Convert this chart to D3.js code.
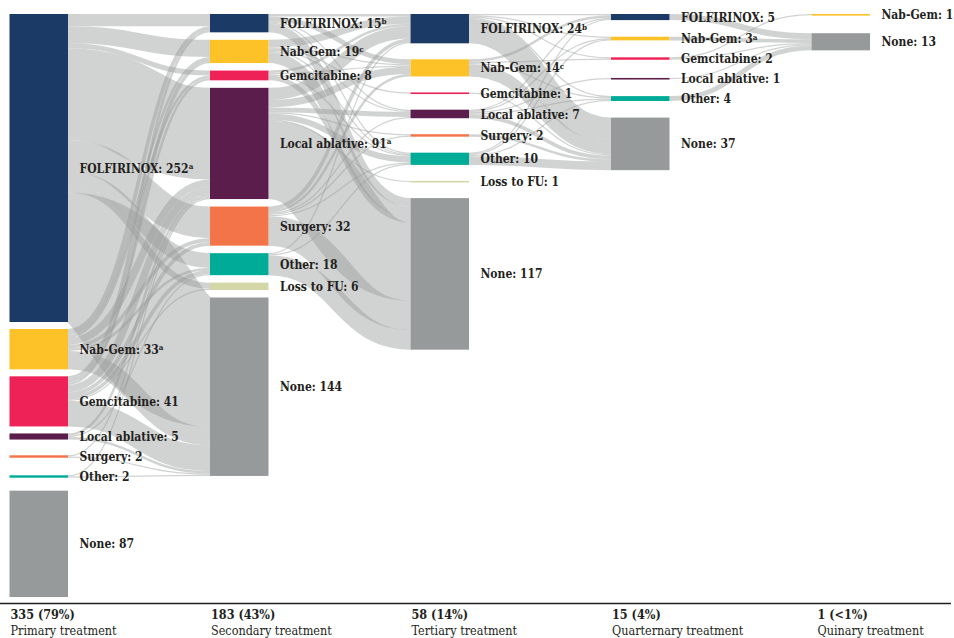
<!DOCTYPE html>
<html>
<head>
<meta charset="utf-8">
<script src="https://cdn.jsdelivr.net/npm/d3@7"></script>
<style>
  html, body { margin: 0; padding: 0; background: #fff; }
  svg { display: block; }
  text { font-family: "DejaVu Serif Condensed", "DejaVu Serif", serif; font-stretch: condensed; fill: #231f20; }
</style>
</head>
<body>
<svg id="chart" width="954" height="638"></svg>
<script>
// ---------------- DATA ----------------
const stageNames  = ["Primary treatment", "Secondary treatment", "Tertiary treatment", "Quarternary treatment", "Quinary treatment"];
const stageTotals = ["335 (79%)", "183 (43%)", "58 (14%)", "15 (4%)", "1 (<1%)"];

const primaryNodes    = ["FOLFIRINOX", "Nab-Gem", "Gemcitabine", "Local ablative", "Surgery", "Other", "None"];
const primaryValues   = [252, 33, 41, 5, 2, 2, 87];
const primaryNotes    = ["a", "a", "", "", "", "", ""];

const secondaryNodes  = ["FOLFIRINOX", "Nab-Gem", "Gemcitabine", "Local ablative", "Surgery", "Other", "Loss to FU", "None"];
const secondaryValues = [15, 19, 8, 91, 32, 18, 6, 144];
const secondaryNotes  = ["b", "c", "", "a", "", "", "", ""];

const tertiaryNodes   = ["FOLFIRINOX", "Nab-Gem", "Gemcitabine", "Local ablative", "Surgery", "Other", "Loss to FU", "None"];
const tertiaryValues  = [24, 14, 1, 7, 2, 10, 1, 117];
const tertiaryNotes   = ["b", "c", "", "", "", "", "", ""];

const quaternaryNodes  = ["FOLFIRINOX", "Nab-Gem", "Gemcitabine", "Local ablative", "Other", "None"];
const quaternaryValues = [5, 3, 2, 1, 4, 37];
const quaternaryNotes  = ["", "a", "", "", "", ""];

const quinaryNodes  = ["Nab-Gem", "None"];
const quinaryValues = [1, 13];
const quinaryNotes  = ["", ""];

// flows [source, target, patients] between consecutive stages (estimated from band widths)
const flows1to2 = [
  ["FOLFIRINOX", "FOLFIRINOX", 10], ["FOLFIRINOX", "Nab-Gem", 14], ["FOLFIRINOX", "Gemcitabine", 4],
  ["FOLFIRINOX", "Local ablative", 75], ["FOLFIRINOX", "Surgery", 26], ["FOLFIRINOX", "Other", 12],
  ["FOLFIRINOX", "Loss to FU", 5], ["FOLFIRINOX", "None", 106],
  ["Nab-Gem", "FOLFIRINOX", 3], ["Nab-Gem", "Nab-Gem", 2], ["Nab-Gem", "Gemcitabine", 2],
  ["Nab-Gem", "Local ablative", 6], ["Nab-Gem", "Surgery", 3], ["Nab-Gem", "Other", 2], ["Nab-Gem", "None", 15],
  ["Gemcitabine", "FOLFIRINOX", 2], ["Gemcitabine", "Nab-Gem", 3], ["Gemcitabine", "Gemcitabine", 2],
  ["Gemcitabine", "Local ablative", 6], ["Gemcitabine", "Surgery", 3], ["Gemcitabine", "Other", 3],
  ["Gemcitabine", "Loss to FU", 1], ["Gemcitabine", "None", 21],
  ["Local ablative", "Local ablative", 2], ["Local ablative", "Other", 1], ["Local ablative", "None", 2],
  ["Surgery", "Local ablative", 1], ["Surgery", "None", 1],
  ["Other", "Local ablative", 1], ["Other", "None", 1]
];
const flows2to3 = [
  ["FOLFIRINOX", "FOLFIRINOX", 2], ["FOLFIRINOX", "Nab-Gem", 4], ["FOLFIRINOX", "Local ablative", 1],
  ["FOLFIRINOX", "Other", 1], ["FOLFIRINOX", "None", 7],
  ["Nab-Gem", "FOLFIRINOX", 6], ["Nab-Gem", "Nab-Gem", 1], ["Nab-Gem", "Gemcitabine", 1],
  ["Nab-Gem", "Local ablative", 1], ["Nab-Gem", "Other", 1], ["Nab-Gem", "None", 9],
  ["Gemcitabine", "FOLFIRINOX", 2], ["Gemcitabine", "Nab-Gem", 1], ["Gemcitabine", "Other", 1], ["Gemcitabine", "None", 4],
  ["Local ablative", "FOLFIRINOX", 10], ["Local ablative", "Nab-Gem", 6], ["Local ablative", "Local ablative", 4],
  ["Local ablative", "Surgery", 1], ["Local ablative", "Other", 5], ["Local ablative", "Loss to FU", 1],
  ["Local ablative", "None", 64],
  ["Surgery", "FOLFIRINOX", 3], ["Surgery", "Nab-Gem", 2], ["Surgery", "Local ablative", 1],
  ["Surgery", "Surgery", 1], ["Surgery", "Other", 1], ["Surgery", "None", 24],
  ["Other", "FOLFIRINOX", 1], ["Other", "Other", 1], ["Other", "None", 16]
];
const flows3to4 = [
  ["FOLFIRINOX", "FOLFIRINOX", 1], ["FOLFIRINOX", "Nab-Gem", 1], ["FOLFIRINOX", "Gemcitabine", 1],
  ["FOLFIRINOX", "Other", 1], ["FOLFIRINOX", "None", 20],
  ["Nab-Gem", "FOLFIRINOX", 2], ["Nab-Gem", "Gemcitabine", 1], ["Nab-Gem", "Other", 1], ["Nab-Gem", "None", 10],
  ["Gemcitabine", "None", 1],
  ["Local ablative", "FOLFIRINOX", 1], ["Local ablative", "Nab-Gem", 1], ["Local ablative", "Local ablative", 1],
  ["Local ablative", "Other", 1], ["Local ablative", "None", 3],
  ["Surgery", "None", 2],
  ["Other", "FOLFIRINOX", 1], ["Other", "Nab-Gem", 1], ["Other", "Other", 1], ["Other", "None", 7]
];
const flows4to5 = [
  ["FOLFIRINOX", "None", 5], ["Nab-Gem", "None", 3], ["Gemcitabine", "Nab-Gem", 1],
  ["Gemcitabine", "None", 1], ["Local ablative", "None", 1], ["Other", "None", 4]
];

const categoryColors = {
  "FOLFIRINOX": "#1b3a65", "Nab-Gem": "#fdc228", "Gemcitabine": "#ee2257",
  "Local ablative": "#5b1e4c", "Surgery": "#f37449", "Other": "#00ac98",
  "Loss to FU": "#d3d6a6", "None": "#979a9a"
};

// ---------------- LAYOUT ----------------
const stages = [
  [primaryNodes, primaryValues, primaryNotes],
  [secondaryNodes, secondaryValues, secondaryNotes],
  [tertiaryNodes, tertiaryValues, tertiaryNotes],
  [quaternaryNodes, quaternaryValues, quaternaryNotes],
  [quinaryNodes, quinaryValues, quinaryNotes]
];
const flowSets = [flows1to2, flows2to3, flows3to4, flows4to5];

const topY = 14, bottomY = 597, nodeWidth = 58.5, minLabelStep = 20;
const columnGaps = [7, 7.5, 16, 16.6, 18];
const lastAtBottom = [true, false, false, false, false];
const x = d3.scaleLinear().domain([0, 4]).range([9.5, 811.5]);
const k = d3.scaleLinear().domain([0, 252]).range([0, 308]);

const nodes = stages.map((st, s) => st[0].map((name, i) => ({
  stage: s, name, label: st[1][i], note: st[2][i], index: i, inV: 0, outV: 0, outLinks: [], inLinks: []
})));
const links = [];
flowSets.forEach((fs, s) => fs.forEach(([a, b, v]) => {
  const src = nodes[s].find(n => n.name === a);
  const tgt = nodes[s + 1].find(n => n.name === b);
  const l = { source: src, target: tgt, value: v };
  src.outV += v; tgt.inV += v;
  src.outLinks.push(l); tgt.inLinks.push(l);
  links.push(l);
}));

nodes.forEach((col, s) => {
  col.forEach(n => { n.value = Math.max(n.label, n.inV, n.outV); n.h = k(n.value); });
  const gap = columnGaps[s];
  let y = topY, prevC = -Infinity;
  col.forEach(n => {
    n.x0 = x(s); n.x1 = x(s) + nodeWidth;
    let y0 = y;
    if (y0 + n.h / 2 < prevC + minLabelStep) y0 = prevC + minLabelStep - n.h / 2;
    n.y0 = y0; n.y1 = y0 + n.h;
    prevC = (n.y0 + n.y1) / 2;
    y = n.y1 + gap;
  });
  if (lastAtBottom[s]) {
    const last = col[col.length - 1];
    last.y0 = bottomY - last.h; last.y1 = bottomY;
  }
});

// link attachment positions
nodes.flat().forEach(n => {
  let sy = n.y0;
  n.outLinks.sort((a, b) => a.target.index - b.target.index).forEach(l => {
    l.w = k(l.value); l.y0 = sy + l.w / 2; sy += l.w;
  });
  let ty = n.y0;
  n.inLinks.sort((a, b) => a.source.index - b.source.index).forEach(l => {
    l.w = k(l.value); l.y1 = ty + l.w / 2; ty += l.w;
  });
});

// ---------------- DRAW ----------------
const svg = d3.select("#chart");
const linkGen = d3.linkHorizontal();

svg.append("g")
  .attr("fill", "none")
  .selectAll("path")
  .data(links)
  .join("path")
  .attr("d", l => linkGen({ source: [l.source.x1, l.y0], target: [l.target.x0, l.y1] }))
  .attr("stroke", "#9a9c9c")
  .attr("stroke-opacity", 0.45)
  .attr("stroke-width", l => Math.max(1, l.w));

const nodeG = svg.append("g");
nodeG.selectAll("rect")
  .data(nodes.flat())
  .join("rect")
  .attr("x", n => n.x0)
  .attr("y", n => n.y0)
  .attr("width", nodeWidth)
  .attr("height", n => Math.max(1.6, n.y1 - n.y0))
  .attr("fill", n => categoryColors[n.name]);

const lbl = svg.append("g")
  .selectAll("text")
  .data(nodes.flat())
  .join("text")
  .attr("x", n => n.x1 + 11.5)
  .attr("y", n => (n.y0 + n.y1) / 2)
  .attr("dy", "0.38em")
  .attr("font-size", 12)
  .attr("font-weight", "bold");
lbl.append("tspan").text(n => `${n.name}: ${n.label}`);
lbl.filter(n => n.note).append("tspan")
  .attr("dy", "-0.45em")
  .attr("font-size", 8)
  .text(n => n.note);

// bottom axis
svg.append("line")
  .attr("x1", 0).attr("x2", 951)
  .attr("y1", 603.5).attr("y2", 603.5)
  .attr("stroke", "#231f20").attr("stroke-width", 1.4);

const foot = svg.append("g").selectAll("g")
  .data(stageNames)
  .join("g")
  .attr("transform", (d, i) => `translate(${x(i) + (i === 4 ? 6 : 1)},0)`);
foot.append("text")
  .attr("y", 619)
  .attr("font-size", 12.5)
  .attr("font-weight", "bold")
  .text((d, i) => stageTotals[i]);
foot.append("text")
  .attr("y", 635)
  .attr("font-size", 12.5)
  .text(d => d);
</script>
</body>
</html>
